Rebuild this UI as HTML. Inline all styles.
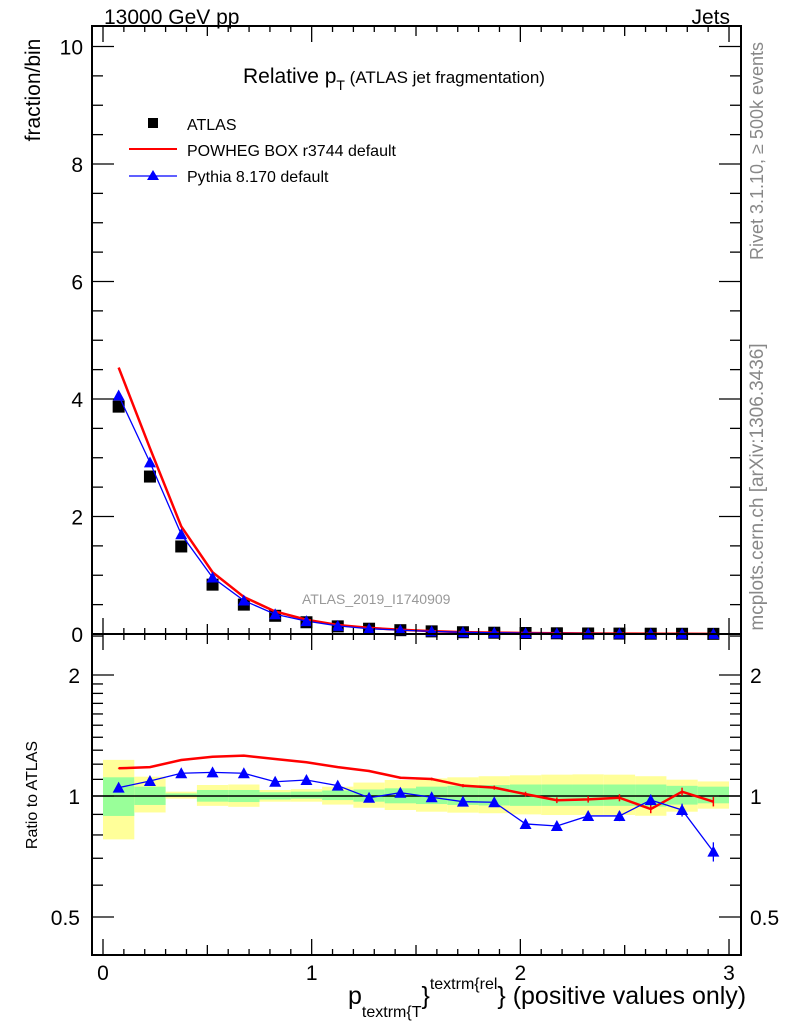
<!DOCTYPE html>
<html><head><meta charset="utf-8"><style>
html,body{margin:0;padding:0;background:#fff;}
svg{display:block;font-family:"Liberation Sans",sans-serif;}
</style></head><body>
<svg id="c" width="786" height="1024" viewBox="0 0 786 1024">
<text x="104" y="24" font-size="21">13000 GeV pp</text>
<text x="730" y="24" font-size="21" text-anchor="end">Jets</text>
<text x="243" y="83" font-size="21">Relative p<tspan font-size="14" dy="7">T</tspan><tspan font-size="17" dy="-7"> (ATLAS jet fragmentation)</tspan></text>
<text transform="translate(40,90) rotate(-90)" font-size="21" text-anchor="middle">fraction/bin</text>
<text transform="translate(37,795) rotate(-90)" font-size="16" text-anchor="middle">Ratio to ATLAS</text>
<text transform="translate(763,151) rotate(-90)" font-size="18" fill="#888" text-anchor="middle">Rivet 3.1.10, ≥ 500k events</text>
<text transform="translate(763,487) rotate(-90)" font-size="19" fill="#888" text-anchor="middle">mcplots.cern.ch [arXiv:1306.3436]</text>
<text x="302" y="604" font-size="14" fill="#999">ATLAS_2019_I1740909</text>
<text x="348" y="1004" font-size="25">p<tspan font-size="16" dy="13">textrm{T</tspan><tspan dy="-13">}</tspan><tspan font-size="16" dy="-15">textrm{rel</tspan><tspan dy="15">} (positive values only)</tspan></text>
<g>
<rect x="148" y="118" width="10" height="10" fill="#000"/>
<text x="187" y="130" font-size="16">ATLAS</text>
<line x1="129" y1="149" x2="177" y2="149" stroke="#f00" stroke-width="2"/>
<text x="187" y="156" font-size="16">POWHEG BOX r3744 default</text>
<line x1="129" y1="176" x2="177" y2="176" stroke="#00f" stroke-width="1.3"/>
<polygon points="153,170 147,180 159,180" fill="#00f"/>
<text x="187" y="182" font-size="16">Pythia 8.170 default</text>
</g>
<g id="g"></g>
</svg>
<script>
const binEdgesStart = 0, binWidth = 0.15;
const atlas = [3.87,2.68,1.49,0.84,0.50,0.31,0.20,0.13,0.09,0.065,0.045,0.03,0.022,0.017,0.012,0.009,0.007,0.005,0.004,0.003];
const powhegRatio = [1.172,1.18,1.229,1.252,1.26,1.236,1.213,1.18,1.154,1.11,1.102,1.061,1.049,1.011,0.976,0.981,0.99,0.928,1.025,0.968];
const pythiaRatio = [1.049,1.09,1.139,1.145,1.139,1.085,1.096,1.061,0.99,1.019,0.993,0.968,0.965,0.852,0.842,0.892,0.892,0.977,0.923,0.727];
const powhegErr = [0.003,0.003,0.003,0.004,0.004,0.005,0.005,0.006,0.007,0.008,0.009,0.01,0.012,0.014,0.016,0.018,0.02,0.022,0.024,0.026];
const pythiaErr = [0.003,0.003,0.004,0.004,0.005,0.005,0.006,0.007,0.008,0.009,0.01,0.012,0.014,0.018,0.02,0.024,0.026,0.03,0.034,0.04];
const yellowHi = [1.23,1.117,1.025,1.065,1.068,1.035,1.04,1.055,1.08,1.096,1.106,1.113,1.12,1.126,1.13,1.132,1.13,1.12,1.098,1.087];
const yellowLo = [0.78,0.91,0.985,0.945,0.94,0.968,0.968,0.952,0.935,0.923,0.914,0.909,0.906,0.9,0.897,0.897,0.897,0.893,0.914,0.93];
const greenHi = [1.113,1.055,1.015,1.035,1.035,1.022,1.025,1.032,1.038,1.045,1.055,1.06,1.065,1.068,1.068,1.068,1.068,1.068,1.06,1.055];
const greenLo = [0.892,0.95,0.997,0.968,0.966,0.98,0.985,0.977,0.968,0.959,0.955,0.95,0.947,0.945,0.945,0.945,0.945,0.941,0.952,0.959];
const xTickLabels = [0,1,2,3];
const yTickLabels = [0,2,4,6,8,10];
const rTickLabels = [0.5,1,2];

const L=92,R=741,T=26,MB=634,RB=955;
const X=v=>103+v*208.67;
const Y=v=>634-v*58.75;
const RY=v=>796-121*Math.log2(v);
const g=document.getElementById('g');
const NS='http://www.w3.org/2000/svg';
function el(t,a,name){const e=document.createElementNS(NS,t);for(const k in a)e.setAttribute(k,a[k]);


g.appendChild(e);return e;}
const n=atlas.length;
const ctr=i=>binEdgesStart+binWidth*(i+0.5);
for(let i=0;i<n;i++){const x0=X(binEdgesStart+binWidth*i),x1=X(binEdgesStart+binWidth*(i+1));
el('rect',{x:x0,y:RY(yellowHi[i]),width:x1-x0,height:RY(yellowLo[i])-RY(yellowHi[i]),fill:'#ffff99'},'yellow-band-'+i);
el('rect',{x:x0,y:RY(greenHi[i]),width:x1-x0,height:RY(greenLo[i])-RY(greenHi[i]),fill:'#99ff99'},'green-band-'+i);}
el('line',{x1:L,x2:R,y1:RY(1),y2:RY(1),stroke:'#000','stroke-width':1.5},'ratio-unity-line');
const pw=atlas.map((a,i)=>a*powhegRatio[i]), py=atlas.map((a,i)=>a*pythiaRatio[i]);
for(let i=0;i<n;i++) el('rect',{x:X(ctr(i))-6,y:Y(atlas[i])-6,width:12,height:12,fill:'#000'},'atlas-point-'+i);
el('polyline',{points:pw.map((v,i)=>X(ctr(i))+','+Y(v)).join(' '),fill:'none',stroke:'#f00','stroke-width':2.5},'powheg-line');
el('polyline',{points:py.map((v,i)=>X(ctr(i))+','+Y(v)).join(' '),fill:'none',stroke:'#00f','stroke-width':1.3},'pythia-line');
for(let i=0;i<n;i++){const x=X(ctr(i)),y=Y(py[i]);el('polygon',{points:`${x},${y-6} ${x-6},${y+5} ${x+6},${y+5}`,fill:'#00f'},'pythia-point-'+i);}
el('polyline',{points:powhegRatio.map((v,i)=>X(ctr(i))+','+RY(v)).join(' '),fill:'none',stroke:'#f00','stroke-width':2.5},'powheg-ratio-line');
el('polyline',{points:pythiaRatio.map((v,i)=>X(ctr(i))+','+RY(v)).join(' '),fill:'none',stroke:'#00f','stroke-width':1.3},'pythia-ratio-line');
for(let i=0;i<n;i++){const x=X(ctr(i));
el('line',{x1:x,x2:x,y1:RY(powhegRatio[i]+powhegErr[i]),y2:RY(powhegRatio[i]-powhegErr[i]),stroke:'#f00','stroke-width':1.5},'powheg-err-'+i);
el('line',{x1:x,x2:x,y1:RY(pythiaRatio[i]+pythiaErr[i]),y2:RY(pythiaRatio[i]-pythiaErr[i]),stroke:'#00f','stroke-width':1.3},'pythia-err-'+i);
const y=RY(pythiaRatio[i]);el('polygon',{points:`${x},${y-6} ${x-6},${y+5} ${x+6},${y+5}`,fill:'#00f'},'pythia-ratio-point-'+i);}
el('rect',{x:L,y:T,width:R-L,height:MB-T,fill:'none',stroke:'#000','stroke-width':2},'main-frame');
el('rect',{x:L,y:MB,width:R-L,height:RB-MB,fill:'none',stroke:'#000','stroke-width':2},'ratio-frame');
for(let k=0;k<=30;k++){const v=k/10,x=X(v);const big=k%10==0,mid=k%5==0;const len=big?16:(mid?10:6);
for(const [b,t] of [[MB,T],[RB,MB]]){el('line',{x1:x,x2:x,y1:b,y2:b-len,stroke:'#000','stroke-width':1.3},'x-tick');el('line',{x1:x,x2:x,y1:t,y2:t+len,stroke:'#000','stroke-width':1.3},'x-tick');}}
xTickLabels.forEach(v=>{const t=el('text',{x:X(v),y:980,'font-size':21,'text-anchor':'middle'},'x-tick-label');t.textContent=v;});
for(let k=0;k<=20;k++){const v=k/2,y=Y(v);const len=k%4==0?22:11;
el('line',{x1:L,x2:L+len,y1:y,y2:y,stroke:'#000','stroke-width':1.3},'y-tick');el('line',{x1:R,x2:R-len,y1:y,y2:y,stroke:'#000','stroke-width':1.3},'y-tick');}
yTickLabels.forEach(v=>{const t=el('text',{x:83,y:Y(v)+8,'font-size':21,'text-anchor':'end'},'y-tick-label');t.textContent=v;});
const rminor=[0.5,0.6,0.7,0.8,0.9,1,1.1,1.2,1.3,1.4,1.5,1.6,1.7,1.8,1.9,2,2.5];
rminor.forEach(v=>{const y=RY(v);const big=rTickLabels.includes(v);const len=big?22:11;
el('line',{x1:L,x2:L+len,y1:y,y2:y,stroke:'#000','stroke-width':1.3},'ratio-tick');el('line',{x1:R,x2:R-len,y1:y,y2:y,stroke:'#000','stroke-width':1.3},'ratio-tick');});
rTickLabels.forEach(v=>{let t=el('text',{x:80,y:RY(v)+8,'font-size':21,'text-anchor':'end'},'ratio-tick-label');t.textContent=v;
t=el('text',{x:750,y:RY(v)+8,'font-size':21},'ratio-tick-label-right');t.textContent=v;});
</script>
</body></html>
